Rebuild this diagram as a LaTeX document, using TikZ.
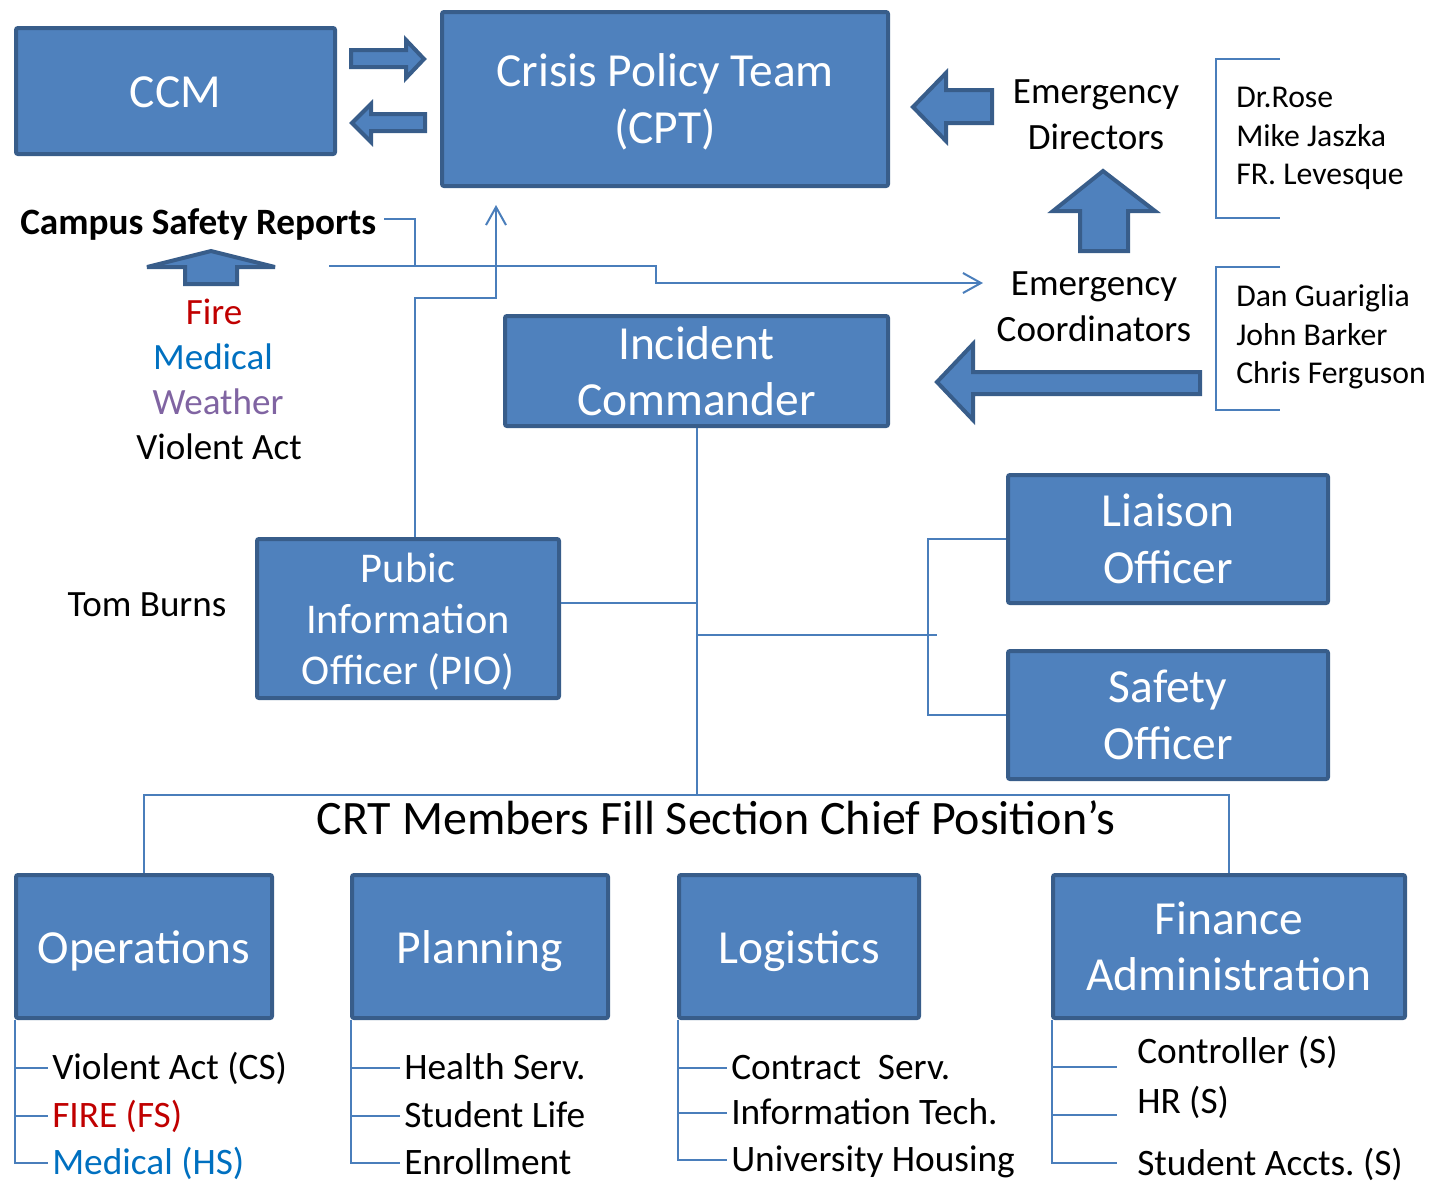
\documentclass[tikz,border=0pt]{standalone}
\usepackage{fontspec}
\setmainfont{Carlito}
\usetikzlibrary{arrows.meta}
\definecolor{boxfill}{HTML}{4F81BD}
\definecolor{boxdraw}{HTML}{385D8A}
\definecolor{linecol}{HTML}{4A7EBB}
\definecolor{firered}{HTML}{C00000}
\definecolor{medblue}{HTML}{0070C0}
\definecolor{wxpurple}{HTML}{8064A2}
\newcommand\toprl[1]{\rule{0pt}{#1}}
\newcommand\botrl[1]{\rule[-#1]{0pt}{0pt}}
\frenchspacing
\begin{document}
\begin{tikzpicture}[x=0.75pt,y=-0.75pt,
  box/.style={draw=boxdraw, fill=boxfill, line width=3pt, text=white, align=center, inner sep=0pt, rounded corners=1.5pt},
  bigtxt/.style={font=\fontsize{35.6}{42.4}\selectfont},
  oneline/.style={text height=24.75pt, text depth=0pt},
  piotxt/.style={font=\fontsize{31.8}{38.25}\selectfont},
  medtxt/.style={font=\fontsize{27.8}{34.5}\selectfont, inner sep=0pt},
  nametxt/.style={font=\fontsize{23.8}{28.9}\selectfont, inner sep=0pt, align=left, anchor=west},
  listtxt/.style={font=\fontsize{28}{33}\selectfont, inner xsep=3pt, inner ysep=0pt, text height=22.4pt, text depth=5.6pt, anchor=west},
  conn/.style={draw=linecol, line width=1.5pt},
  tipconn/.style={conn, -{Straight Barb[length=13.5pt,width=15pt]}},
  blockarrow/.style={draw=boxdraw, fill=boxfill, line width=3pt, line join=miter, miter limit=4}
]
\useasboundingbox (0,0) rectangle (1431,1183);

% ---------- boxes ----------
\node[box, bigtxt, oneline, minimum width=239.25pt, minimum height=94.5pt] (ccm) at (175.5,91) {CCM};
\node[box, bigtxt, minimum width=334.5pt, minimum height=130.5pt] (cpt) at (665,99) {\toprl{32pt}Crisis Policy Team\\(CPT)\botrl{8pt}};
\node[box, bigtxt, minimum width=287.25pt, minimum height=82.5pt] (ic) at (696.5,371) {Incident\\Commander};
\node[box, piotxt, minimum width=226.5pt, minimum height=119.25pt] (pio) at (408,618.5) {\toprl{30pt}Pubic\\Information\\Officer (PIO)\botrl{7.5pt}};
\node[box, bigtxt, minimum width=240pt, minimum height=96pt] (liaison) at (1168,539) {Liaison\\Officer};
\node[box, bigtxt, minimum width=240pt, minimum height=96pt] (safety) at (1168,715) {Safety\\Officer};
\node[box, bigtxt, oneline, minimum width=192pt, minimum height=107.25pt] (ops) at (144,946.5) {Operations};
\node[box, bigtxt, oneline, minimum width=192pt, minimum height=107.25pt] (plan) at (480,946.5) {Planning};
\node[box, bigtxt, oneline, minimum width=180pt, minimum height=107.25pt] (logi) at (799,946.5) {Logistics};
\node[box, bigtxt, minimum width=264pt, minimum height=107.25pt] (fin) at (1229,946.5) {Finance\\Administration};

% ---------- free texts ----------
\node[medtxt, align=center] (edir) at (1096,115) {Emergency\\Directors};
\node[medtxt, align=center] (ecoord) at (1094,307) {Emergency\\Coordinators};
\node[nametxt] (dnames) at (1236,138.5) {Dr.Rose\\Mike Jaszka\\FR. Levesque};
\node[nametxt] (cnames) at (1236,337) {Dan Guariglia\\John Barker\\Chris Ferguson};
\node[font=\fontsize{27.9}{33}\selectfont\bfseries, anchor=base west, inner sep=0pt] (csr) at (20,234) {Campus Safety Reports};
\node[medtxt, anchor=base, text=firered] (fire) at (214,324) {Fire};
\node[medtxt, anchor=base, text=medblue] (med) at (213,369) {Medical};
\node[medtxt, anchor=base, text=wxpurple] (wx) at (218,414) {Weather};
\node[medtxt, anchor=base] (va) at (219,459) {Violent Act};
\node[medtxt, anchor=base] (tom) at (147,616) {Tom Burns};
\node[font=\fontsize{36}{42}\selectfont, anchor=base, inner sep=0pt] (crt) at (716,834) {CRT Members Fill Section Chief Position’s};

% ---------- block arrows ----------
\draw[blockarrow] (351,50) -- (406,50) -- (406,40) -- (424,59) -- (406,78) -- (406,67) -- (351,67) -- cycle;
\draw[blockarrow] (425,114) -- (371,114) -- (371,104) -- (352,123) -- (371,142) -- (371,131) -- (425,131) -- cycle;
\draw[blockarrow] (211,251) -- (275,267) -- (237,267) -- (237,284) -- (185,284) -- (185,267) -- (147,267) -- cycle;
\draw[blockarrow] (913,107) -- (946,73) -- (946,90) -- (992,90) -- (992,123) -- (946,123) -- (946,141) -- cycle;
\draw[blockarrow] (1103,171) -- (1155,211) -- (1128,211) -- (1128,251) -- (1080,251) -- (1080,211) -- (1053,211) -- cycle;
\draw[blockarrow] (937,382) -- (973,344) -- (973,372) -- (1200,372) -- (1200,394) -- (973,394) -- (973,420) -- cycle;

% ---------- name brackets ----------
\coordinate (db1) at (1280,59);
\coordinate (db2) at (1280,218);
\coordinate (cb1) at (1280,267);
\coordinate (cb2) at (1280,410);
\draw[conn] (db1) -| ([xshift=-15pt]dnames.west) |- (db2);
\draw[conn] (cb1) -| ([xshift=-15pt]cnames.west) |- (cb2);

% ---------- connectors ----------
\coordinate (csrEnd) at (384,219);
\coordinate (ln0) at (329,266);
\coordinate (ecTip) at (983,283);
\coordinate (cptIn) at (496,205);
\draw[conn] (csrEnd) -| (415,266);
\draw[tipconn] (ln0) -- (656,266) -- (656,283) -- (ecTip);
\draw[tipconn] ([xshift=5.25pt]pio.north) |- (496,298) -- (cptIn);

\coordinate (barY) at (0,795);
\coordinate (pioR) at (561,603);
\coordinate (brEnd) at (937,635);
\coordinate (brX) at (928,0);
\draw[conn] (ic.south) -- (ic.south |- barY);
\draw[conn] (pioR) -- (pioR -| ic.south);
\draw[conn] (ic.south |- brEnd) -- (brEnd);
\draw[conn] (liaison.west) -| (brX |- brEnd) |- (safety.west);
\draw[conn] (ops.north) -- (ops.north |- barY) -| (fin.north);

% ---------- section lists ----------
\coordinate (opsL) at ([xshift=1pt]ops.south west);
\coordinate (planL) at ([xshift=1pt]plan.south west);
\coordinate (logiL) at ([xshift=1pt]logi.south west);
\coordinate (finL) at ([xshift=1pt]fin.south west);

\node[listtxt] (opA) at (48,1068) {Violent Act (CS)};
\node[listtxt, text=firered] (opB) at (48,1116) {FIRE (FS)};
\node[listtxt, text=medblue] (opC) at (48,1163) {Medical (HS)};
\draw[conn] (opsL) |- (opC.west);
\draw[conn] (opsL |- opA.west) -- (opA.west);
\draw[conn] (opsL |- opB.west) -- (opB.west);

\node[listtxt] (plA) at (400,1068) {Health Serv.};
\node[listtxt] (plB) at (400,1116) {Student Life};
\node[listtxt] (plC) at (400,1163) {Enrollment};
\draw[conn] (planL) |- (plC.west);
\draw[conn] (planL |- plA.west) -- (plA.west);
\draw[conn] (planL |- plB.west) -- (plB.west);

\node[listtxt] (lgA) at (727,1068) {Contract\ \ Serv.};
\node[listtxt] (lgB) at (727,1113) {Information Tech.};
\node[listtxt] (lgC) at (727,1160) {University Housing};
\draw[conn] (logiL) |- (lgC.west);
\draw[conn] (logiL |- lgA.west) -- (lgA.west);
\draw[conn] (logiL |- lgB.west) -- (lgB.west);

\node[listtxt] (fnA) at (1133,1052) {Controller (S)};
\node[listtxt] (fnB) at (1133,1102) {HR (S)};
\node[listtxt] (fnC) at (1133,1164) {Student Accts. (S)};
\coordinate (fA) at (1117,1067);
\coordinate (fB) at (1117,1115);
\coordinate (fC) at (1117,1163);
\draw[conn] (finL) |- (fC);
\draw[conn] (finL |- fA) -- (fA);
\draw[conn] (finL |- fB) -- (fB);
\end{tikzpicture}
\end{document}
